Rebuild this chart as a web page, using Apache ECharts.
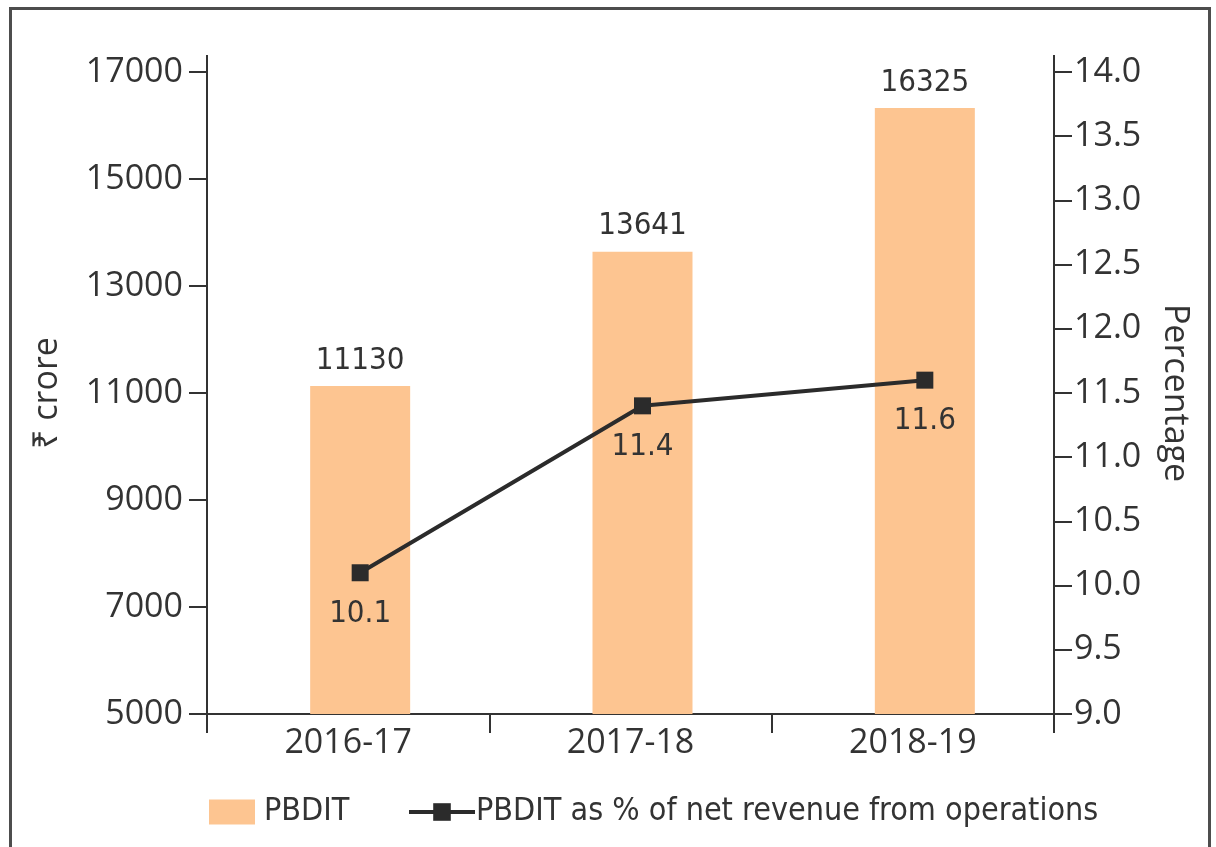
<!DOCTYPE html>
<html>
<head>
<meta charset="utf-8">
<title>PBDIT</title>
<script src="https://cdn.jsdelivr.net/npm/echarts@6/dist/echarts.min.js"></script>
<style>
  html, body { margin: 0; padding: 0; background: #fff; overflow: hidden; }
  #wrap { position: relative; width: 1216px; height: 847px; overflow: hidden; }
  #frame { position: absolute; left: 9px; top: 7px; width: 1202px; height: 900px;
           border: 3px solid #4d4d4d; box-sizing: border-box; }
  #chart { position: absolute; left: 0; top: 0; width: 1216px; height: 847px; }
</style>
</head>
<body>
<div id="wrap">
  <div id="frame"></div>
  <div id="chart"></div>
</div>
<script>
// Financial years on the category axis
const years = ['2016-17', '2017-18', '2018-19'];
// PBDIT in ₹ crore
const pbdit = [11130, 13641, 16325];
// PBDIT as a percentage of net revenue from operations
const pbditPct = [10.1, 11.4, 11.6];

// Axis ranges
const leftMin = 5000, leftMax = 17000, leftStep = 2000;
const rightMin = 9.0, rightMax = 14.0, rightStep = 0.5;

const INK = '#333333';
const BAR = '#FDC591';
const tickFont = '"Open Sans", "Noto Sans", sans-serif';
const narrowFont = '"Liberation Sans Narrow", "Arial Narrow", "DejaVu Sans Condensed", sans-serif';

const chart = echarts.init(document.getElementById('chart'), null, { renderer: 'canvas' });

const axisLineStyle = { color: INK, width: 2 };

const option = {
  backgroundColor: 'transparent',
  animation: false,
  // grid 0 carries the visible axes; grid 1 carries the marks, nudged right
  grid: [
    { left: 207, right: 162, top: 72, bottom: 133 },
    { left: 219, right: 150, top: 72, bottom: 133 }
  ],
  legend: [
    {
      left: 204, top: 791,
      itemWidth: 46, itemHeight: 25, itemGap: 0,
      icon: 'rect',
      data: ['PBDIT'],
      textStyle: { fontFamily: narrowFont, fontSize: 32, color: INK, padding: [0, 0, 0, 4] }
    },
    {
      left: 402, top: 791,
      itemWidth: 66, itemHeight: 22, itemGap: 0,
      lineStyle: { width: 4 },
      data: ['PBDIT as % of net revenue from operations'],
      textStyle: { fontFamily: narrowFont, fontSize: 32, color: INK, padding: [0, 0, 0, -4] }
    }
  ],
  xAxis: [
    {
      type: 'category', gridIndex: 0, data: years,
      axisLine: { show: true, lineStyle: axisLineStyle },
      axisTick: { show: true, length: 19, lineStyle: axisLineStyle },
      axisLabel: { margin: 12, fontFamily: tickFont, fontSize: 34, color: INK }
    },
    { type: 'category', gridIndex: 1, data: years, show: false }
  ],
  yAxis: [
    {
      type: 'value', gridIndex: 0, position: 'left',
      min: leftMin, max: leftMax, interval: leftStep,
      name: '₹ crore', nameLocation: 'middle', nameRotate: 90, nameGap: 143,
      nameTextStyle: { fontFamily: tickFont, fontSize: 34, color: INK },
      axisLine: { show: true, lineStyle: axisLineStyle },
      axisTick: { show: true, length: 18, lineStyle: axisLineStyle },
      axisLabel: { margin: 24, fontFamily: tickFont, fontSize: 34, color: INK,
                   formatter: v => String(v) },
      splitLine: { show: false }
    },
    {
      type: 'value', gridIndex: 0, position: 'right',
      min: rightMin, max: rightMax, interval: rightStep,
      name: 'Percentage', nameLocation: 'middle', nameRotate: -90, nameGap: 104,
      nameTextStyle: { fontFamily: tickFont, fontSize: 34, color: INK },
      axisLine: { show: true, lineStyle: axisLineStyle },
      axisTick: { show: true, length: 18, lineStyle: axisLineStyle },
      axisLabel: { margin: 20, fontFamily: tickFont, fontSize: 34, color: INK,
                   formatter: v => v.toFixed(1) },
      splitLine: { show: false }
    },
    { type: 'value', gridIndex: 1, min: leftMin, max: leftMax, interval: leftStep, show: false, splitLine: { show: false } },
    { type: 'value', gridIndex: 1, min: rightMin, max: rightMax, interval: rightStep, show: false, splitLine: { show: false } }
  ],
  series: [
    {
      name: 'PBDIT', type: 'bar',
      xAxisIndex: 1, yAxisIndex: 2,
      data: pbdit, barWidth: 100,
      itemStyle: { color: BAR },
      label: {
        show: true, position: 'top', distance: 10,
        fontFamily: narrowFont, fontSize: 31, color: INK
      },
      z: 2
    },
    {
      name: 'PBDIT as % of net revenue from operations', type: 'line',
      xAxisIndex: 1, yAxisIndex: 3,
      data: pbditPct,
      symbol: 'rect', symbolSize: 17,
      lineStyle: { color: '#2b2b2b', width: 4 },
      itemStyle: { color: '#2b2b2b' },
      label: {
        show: true, position: 'bottom', distance: 17,
        fontFamily: narrowFont, fontSize: 31, color: INK,
        formatter: p => p.value.toFixed(1)
      },
      z: 5
    }
  ]
};

chart.setOption(option);

// Extend both value axis lines a little above the top tick
const topY = chart.convertToPixel({ yAxisIndex: 0 }, leftMax);
const step = chart.convertToPixel({ xAxisIndex: 0 }, years[1]) - chart.convertToPixel({ xAxisIndex: 0 }, years[0]);
const leftX = chart.convertToPixel({ xAxisIndex: 0 }, years[0]) - step / 2;
const rightX = chart.convertToPixel({ xAxisIndex: 0 }, years[years.length - 1]) + step / 2;
chart.setOption({
  graphic: [
    { type: 'line', shape: { x1: leftX, y1: topY - 17, x2: leftX, y2: topY }, style: { stroke: INK, lineWidth: 2 } },
    { type: 'line', shape: { x1: rightX, y1: topY - 17, x2: rightX, y2: topY }, style: { stroke: INK, lineWidth: 2 } }
  ]
});
</script>
</body>
</html>
